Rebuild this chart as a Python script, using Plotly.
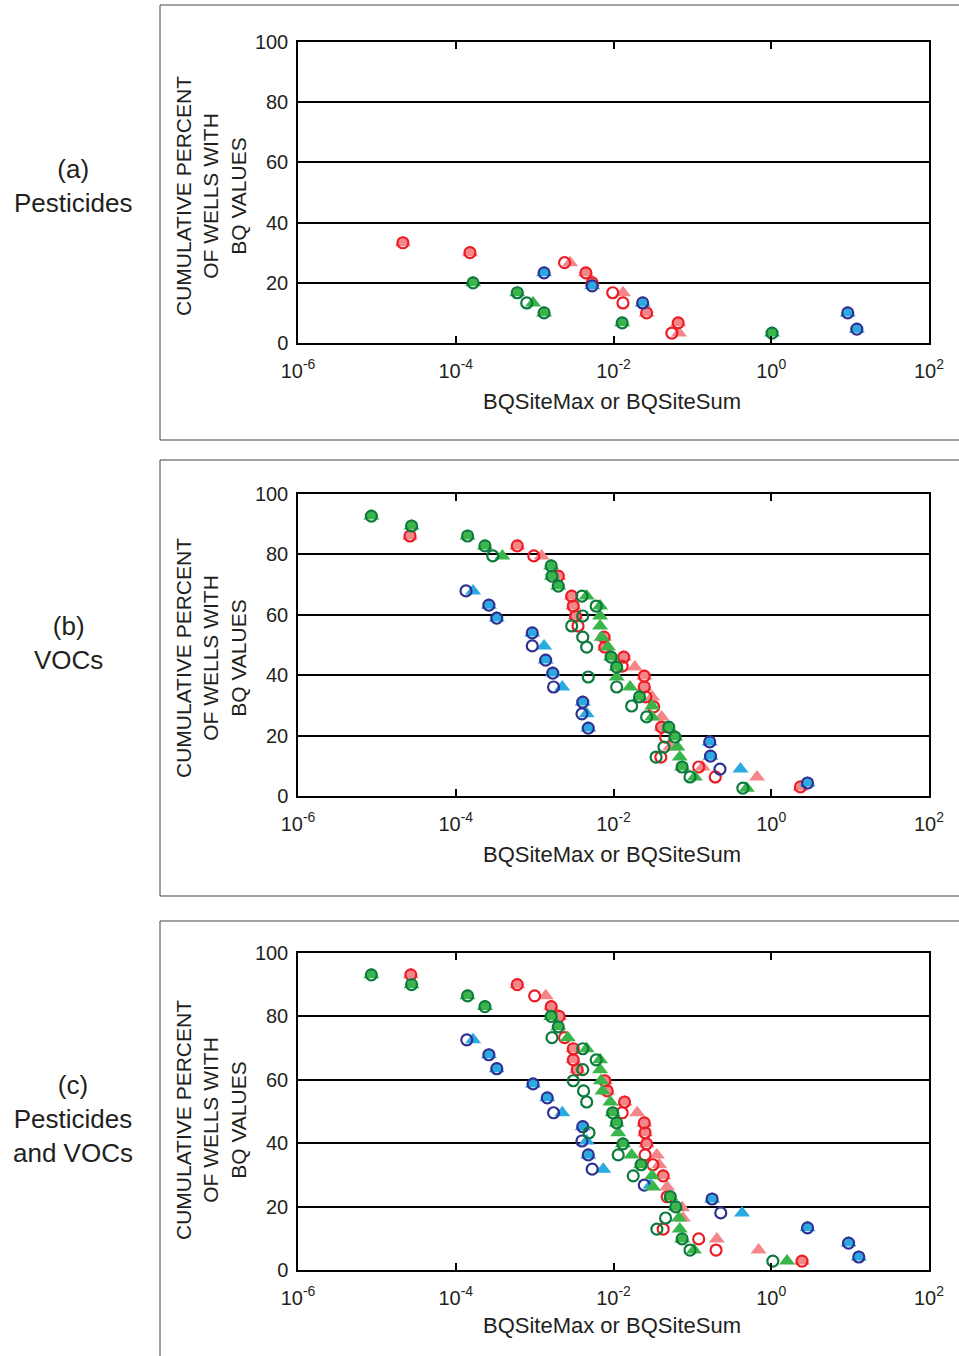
import numpy as np
import plotly.graph_objects as go

# ---------------- data (x stored as log10 of BQ value, y = cumulative percent) -------------
# Panel (a) Pesticides
a_red_c_x = [-4.67, -3.82, -2.62, -2.35, -2.27, -2.01, -1.88, -1.58, -1.18, -1.26]
a_red_c_y = [33.3, 30.0, 26.7, 23.3, 20.0, 16.7, 13.3, 10.0, 6.7, 3.3]
a_red_t_x = [-4.67, -3.82, -2.55, -2.35, -2.27, -1.88, -1.58, -1.18, -1.17]
a_red_t_y = [33.3, 30.0, 26.7, 23.3, 20.0, 16.7, 10.0, 6.7, 3.3]
a_blu_c_x = [-2.88, -2.27, -1.63, 0.97, 1.085]
a_blu_c_y = [23.3, 19.0, 13.3, 10.0, 4.6]
a_blu_t_x = [-2.88, -2.27, -1.63, 0.97, 1.085]
a_blu_t_y = [23.3, 19.0, 13.3, 10.0, 4.6]
a_grn_c_x = [-3.78, -3.22, -3.10, -2.88, -1.89, 0.01]
a_grn_c_y = [20.0, 16.7, 13.3, 10.0, 6.7, 3.3]
a_grn_t_x = [-3.78, -3.22, -3.02, -2.88, -1.89, 0.01]
a_grn_t_y = [20.0, 16.7, 13.3, 10.0, 6.7, 3.3]

# Panel (b) VOCs
b_red_c_x = [-4.58, -3.22, -3.01, -2.70, -2.53, -2.51, -2.48, -2.45, -2.12, -2.11, -1.87,
             -1.89, -1.61, -1.61, -1.59, -1.49, -1.39, -1.34, -1.40, -0.92, -0.71, 0.37]
b_red_c_y = [86.1, 82.8, 79.5, 72.8, 66.2, 62.9, 59.6, 56.3, 52.6, 49.3, 46.0,
             43.0, 39.7, 36.1, 32.8, 29.5, 22.8, 19.5, 12.9, 9.6, 6.3, 3.0]
b_red_t_x = [-4.58, -3.22, -2.91, -2.70, -2.53, -2.51, -2.48, -2.12, -2.11, -1.87,
             -1.73, -1.61, -1.61, -1.51, -1.39, -1.39, -1.28, -0.87, -0.18, 0.37]
b_red_t_y = [86.1, 82.8, 79.5, 72.8, 66.2, 62.9, 59.6, 52.6, 49.3, 46.0,
             42.7, 39.7, 36.1, 32.8, 26.2, 22.8, 16.2, 9.6, 6.3, 3.0]
b_blu_c_x = [-3.87, -3.58, -3.48, -3.03, -3.03, -2.86, -2.77, -2.76, -2.39, -2.40, -2.32,
             -0.78, -0.77, -0.65, 0.46]
b_blu_c_y = [67.9, 63.2, 58.9, 54.0, 49.7, 45.0, 40.7, 36.1, 31.1, 27.2, 22.5,
             17.9, 13.2, 8.9, 4.3]
b_blu_t_x = [-3.78, -3.58, -3.48, -3.03, -2.88, -2.86, -2.77, -2.65, -2.39, -2.34, -2.32,
             -0.78, -0.77, -0.39, 0.46]
b_blu_t_y = [67.9, 63.2, 58.9, 54.0, 49.7, 45.0, 40.7, 36.1, 31.1, 27.2, 22.5,
             17.9, 13.2, 8.9, 4.3]
b_grn_c_x = [-5.07, -4.56, -3.85, -3.63, -3.53, -2.79, -2.78, -2.70, -2.40, -2.22,
             -2.39, -2.53, -2.39, -2.34, -2.03, -1.96, -2.32, -1.96, -1.67, -1.77,
             -1.58, -1.30, -1.22, -1.36, -1.46, -1.13, -1.03, -0.36]
b_grn_c_y = [92.7, 89.4, 86.1, 82.8, 79.5, 76.2, 72.8, 69.5, 66.2, 62.9,
             59.6, 56.3, 52.6, 49.3, 46.0, 42.7, 39.4, 36.1, 32.8, 29.8,
             26.2, 22.8, 19.5, 16.2, 12.9, 9.6, 6.3, 2.6]
b_grn_t_x = [-5.07, -4.56, -3.85, -3.63, -3.41, -2.79, -2.78, -2.70, -2.34, -2.17,
             -2.17, -2.17, -2.15, -2.07, -2.03, -1.96, -1.96, -1.79, -1.67, -1.51,
             -1.51, -1.30, -1.22, -1.19, -1.16, -1.13, -0.97, -0.31]
b_grn_t_y = [92.7, 89.4, 86.1, 82.8, 79.5, 76.2, 72.8, 69.5, 66.2, 62.9,
             59.6, 56.3, 52.6, 49.3, 46.0, 42.7, 39.4, 36.1, 32.8, 29.8,
             26.2, 22.8, 19.5, 16.2, 12.9, 9.6, 6.3, 2.6]

# Panel (c) Pesticides and VOCs
c_red_c_x = [-4.57, -3.22, -3.00, -2.79, -2.69, -2.62, -2.51, -2.51, -2.46, -2.11,
             -2.08, -1.86, -1.89, -1.61, -1.60, -1.58, -1.60, -1.50, -1.37, -1.32,
             -1.37, -0.92, -0.70, 0.39]
c_red_c_y = [93.1, 90.0, 86.5, 83.1, 80.0, 73.3, 69.8, 66.3, 63.2, 59.7,
             56.5, 53.0, 49.6, 46.4, 43.3, 39.8, 36.3, 33.2, 29.7, 23.1,
             12.9, 9.8, 6.3, 2.8]
c_red_t_x = [-4.57, -3.22, -2.86, -2.79, -2.69, -2.51, -2.51, -2.46, -2.11, -2.08,
             -1.86, -1.70, -1.61, -1.60, -1.58, -1.45, -1.42, -1.37, -1.32, -1.13,
             -1.12, -0.69, -0.16, 0.39]
c_red_t_y = [93.1, 90.0, 86.5, 83.1, 80.0, 69.8, 66.3, 63.2, 59.7, 56.5,
             53.0, 49.6, 46.4, 43.3, 39.8, 36.3, 33.2, 29.7, 26.2, 19.6,
             16.4, 9.8, 6.3, 2.8]
c_blu_c_x = [-3.86, -3.58, -3.48, -3.02, -2.84, -2.76, -2.39, -2.40, -2.32, -2.27,
             -1.61, -0.75, -0.64, 0.46, 0.98, 1.11]
c_blu_c_y = [72.6, 67.9, 63.5, 58.7, 54.3, 49.6, 45.2, 40.7, 36.3, 31.8,
             26.8, 22.4, 18.0, 13.3, 8.5, 4.1]
c_blu_t_x = [-3.78, -3.58, -3.48, -3.02, -2.84, -2.65, -2.39, -2.34, -2.32, -2.13,
             -1.53, -0.75, -0.37, 0.46, 0.98, 1.11]
c_blu_t_y = [72.6, 67.9, 63.5, 58.7, 54.3, 49.6, 45.2, 40.7, 36.3, 31.8,
             26.8, 22.4, 18.0, 13.3, 8.5, 4.1]
c_grn_c_x = [-5.07, -4.56, -3.85, -3.63, -2.79, -2.70, -2.78, -2.39, -2.22, -2.39,
             -2.51, -2.38, -2.34, -2.01, -1.96, -2.31, -1.88, -1.94, -1.65, -1.75,
             -1.28, -1.21, -1.34, -1.45, -1.13, -1.03, 0.02]
c_grn_c_y = [93.1, 90.0, 86.5, 83.1, 80.0, 76.7, 73.3, 69.8, 66.3, 63.2,
             59.7, 56.5, 53.0, 49.6, 46.4, 43.3, 39.8, 36.3, 33.2, 29.7,
             23.1, 19.9, 16.4, 12.9, 9.8, 6.3, 2.8]
c_grn_t_x = [-5.07, -4.56, -3.85, -3.63, -2.79, -2.70, -2.58, -2.34, -2.17, -2.17,
             -2.16, -2.14, -2.04, -2.01, -1.96, -1.94, -1.88, -1.77, -1.65, -1.51,
             -1.50, -1.28, -1.21, -1.17, -1.16, -1.13, -0.98, 0.20]
c_grn_t_y = [93.1, 90.0, 86.5, 83.1, 80.0, 76.7, 73.3, 69.8, 66.3, 63.2,
             59.7, 56.5, 53.0, 49.6, 46.4, 43.3, 39.8, 36.3, 33.2, 29.7,
             26.2, 23.1, 19.9, 16.4, 12.9, 9.8, 6.3, 2.8]

x_tick_exps = [-6, -4, -2, 0, 2]
y_ticks = [0, 20, 40, 60, 80, 100]
panel_labels = ["(a)<br>Pesticides", "(b)<br>VOCs", "(c)<br>Pesticides<br>and VOCs"]
y_title = "CUMULATIVE PERCENT<br>OF WELLS WITH<br>BQ VALUES"
x_title = "BQSiteMax or BQSiteSum"

# ---------------- styling ----------------
W, H = 959, 1356
FONT = "Liberation Sans, Arial, sans-serif"
TXT = "#231F20"
colors = {
    "red": ("#ED1C24", "#F4868A"),
    "blu": ("#2E3192", "#29ABE2"),
    "grn": ("#0B7A3C", "#39B54A"),
}

# plot areas in pixels (left, top, right, bottom)
areas = [(298, 42, 929, 343), (298, 494, 929, 796), (298, 953, 929, 1270)]
boxes = [(160, 5, 440), (160, 460, 896), (160, 921, 1360)]
label_pos = [(73, 186), (68, 643), (73, 1119)]
ytitle_pos = [(211, 196), (211, 658), (211, 1120)]
xtitle_pos = [(612, 401), (612, 854), (612, 1325)]

panels = [
    dict(red=(a_red_c_x, a_red_c_y, a_red_t_x, a_red_t_y),
         blu=(a_blu_c_x, a_blu_c_y, a_blu_t_x, a_blu_t_y),
         grn=(a_grn_c_x, a_grn_c_y, a_grn_t_x, a_grn_t_y)),
    dict(red=(b_red_c_x, b_red_c_y, b_red_t_x, b_red_t_y),
         blu=(b_blu_c_x, b_blu_c_y, b_blu_t_x, b_blu_t_y),
         grn=(b_grn_c_x, b_grn_c_y, b_grn_t_x, b_grn_t_y)),
    dict(red=(c_red_c_x, c_red_c_y, c_red_t_x, c_red_t_y),
         blu=(c_blu_c_x, c_blu_c_y, c_blu_t_x, c_blu_t_y),
         grn=(c_grn_c_x, c_grn_c_y, c_grn_t_x, c_grn_t_y)),
]

fig = go.Figure()
layout = dict(
    template="none",
    width=W, height=H, margin=dict(l=0, r=0, t=0, b=0, pad=0, autoexpand=False),
    paper_bgcolor="white", plot_bgcolor="white", showlegend=False,
    font=dict(family=FONT, color=TXT, size=20),
    annotations=[], shapes=[],
)

def px_x(p):
    return p / W

def px_y(p):
    return 1 - p / H

for i, (area, pdata) in enumerate(zip(areas, panels)):
    n = "" if i == 0 else str(i + 1)
    xa, ya = "x" + n, "y" + n
    l, t, r, b = area
    layout["xaxis" + n] = dict(
        type="log", range=[-6, 2], domain=[px_x(l), px_x(r)], anchor=ya,
        tickvals=[10.0 ** e for e in x_tick_exps],
        ticktext=["10<sup>%d</sup>" % e for e in x_tick_exps],
        ticks="inside", ticklen=7, tickwidth=1.5, tickcolor="black",
        ticklabelstandoff=9,
        showline=True, linecolor="black", linewidth=1.5, mirror="ticks",
        showgrid=False, zeroline=False, automargin=False,
        tickfont=dict(size=20, family=FONT, color=TXT),
    )
    layout["yaxis" + n] = dict(
        range=[0, 100], domain=[px_y(b), px_y(t)], anchor=xa,
        tickvals=y_ticks, ticks="", ticklabelstandoff=4,
        showline=True, linecolor="black", linewidth=1.5, mirror=True,
        showgrid=True, gridcolor="black", gridwidth=2, zeroline=False, automargin=False,
        tickfont=dict(size=20, family=FONT, color=TXT),
    )
    for key in ["red", "blu", "grn"]:
        cx, cy, tx, ty = pdata[key]
        edge, tri = colors[key]
        fig.add_trace(go.Scatter(
            x=10.0 ** np.array(tx), y=ty, mode="markers", xaxis=xa, yaxis=ya,
            marker=dict(symbol="triangle-up", size=14, color=tri, line=dict(width=0)),
            hoverinfo="skip"))
        fig.add_trace(go.Scatter(
            x=10.0 ** np.array(cx), y=cy, mode="markers", xaxis=xa, yaxis=ya,
            marker=dict(symbol="circle-open", size=11, color=edge, line=dict(width=2.2, color=edge)),
            hoverinfo="skip"))

    bx, by0, by1 = boxes[i]
    layout["shapes"].append(dict(
        type="rect", xref="paper", yref="paper",
        x0=px_x(bx), x1=1.02, y0=px_y(by1), y1=px_y(by0),
        line=dict(color="#444444", width=1), fillcolor="rgba(0,0,0,0)", layer="below"))
    lx, ly = label_pos[i]
    layout["annotations"].append(dict(
        text=panel_labels[i], x=px_x(lx), y=px_y(ly), xref="paper", yref="paper",
        showarrow=False, xanchor="center", yanchor="middle", align="center",
        font=dict(size=26, family=FONT, color=TXT)))
    tx_, ty_ = ytitle_pos[i]
    layout["annotations"].append(dict(
        text=y_title, x=px_x(tx_), y=px_y(ty_), xref="paper", yref="paper",
        showarrow=False, textangle=-90, xanchor="center", yanchor="middle", align="center",
        font=dict(size=21, family=FONT, color=TXT)))
    xx, xy = xtitle_pos[i]
    layout["annotations"].append(dict(
        text=x_title, x=px_x(xx), y=px_y(xy), xref="paper", yref="paper",
        showarrow=False, xanchor="center", yanchor="middle",
        font=dict(size=22, family=FONT, color=TXT)))

fig.update_layout(**layout)
fig.write_html("out.html")
